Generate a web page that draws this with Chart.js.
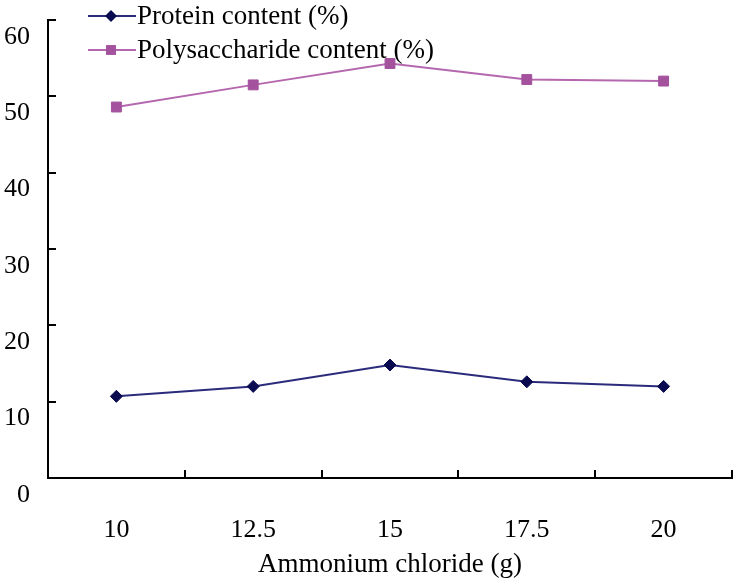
<!DOCTYPE html>
<html>
<head>
<meta charset="utf-8">
<title>Protein and polysaccharide content</title>
<script src="https://cdn.jsdelivr.net/npm/chart.js"></script>
<style>
  html, body { margin: 0; padding: 0; background: #fff; }
  #wrap { width: 740px; height: 583px; position: relative; }
</style>
</head>
<body>
<div id="wrap"><canvas id="chart"></canvas></div>
<script>
const categories = ['10', '12.5', '15', '17.5', '20'];
const proteinValues = [10.7, 12.0, 14.8, 12.6, 12.0];
const polysaccharideValues = [48.6, 51.5, 54.3, 52.2, 52.0];
const yTicks = [0, 10, 20, 30, 40, 50, 60];

const serif = "'Liberation Serif', 'Times New Roman', serif";
Chart.defaults.font.family = serif;
Chart.defaults.color = '#000';

// inward tick marks like the original plot
const innerTicks = {
    id: 'innerTicks',
    afterDraw(chart) {
        const ctx = chart.ctx;
        const area = chart.chartArea;
        const y = chart.scales.y;
        ctx.save();
        ctx.strokeStyle = '#000';
        ctx.lineWidth = 2;
        ctx.beginPath();
        yTicks.forEach(v => {
            const py = Math.round(y.getPixelForValue(v));
            ctx.moveTo(area.left, py);
            ctx.lineTo(area.left + 8, py);
        });
        const n = categories.length;
        for (let i = 1; i <= n; i++) {
            const px = Math.round(area.left + i * (area.right - area.left) / n);
            ctx.moveTo(px, area.bottom);
            ctx.lineTo(px, area.bottom - 8);
        }
        ctx.stroke();
        ctx.restore();
    }
};

// two-row legend placed over the top of the plot
const stackedLegend = {
    id: 'stackedLegend',
    afterDraw(chart) {
        const ctx = chart.ctx;
        const rows = [16, 50];
        ctx.save();
        chart.data.datasets.forEach((ds, i) => {
            const y = rows[i];
            ctx.strokeStyle = ds.borderColor;
            ctx.lineWidth = 2;
            ctx.beginPath();
            ctx.moveTo(88, y);
            ctx.lineTo(136, y);
            ctx.stroke();
            ctx.fillStyle = ds.pointBackgroundColor;
            const r = ds.pointRadius;
            ctx.beginPath();
            if (ds.pointStyle === 'rectRot') {
                ctx.moveTo(111, y - r);
                ctx.lineTo(111 + r, y);
                ctx.lineTo(111, y + r);
                ctx.lineTo(111 - r, y);
                ctx.closePath();
            } else {
                const s = r * Math.SQRT1_2;
                ctx.rect(111 - s, y - s, 2 * s, 2 * s);
            }
            ctx.fill();
            ctx.fillStyle = '#000';
            ctx.font = '27px ' + serif;
            ctx.textBaseline = 'middle';
            ctx.textAlign = 'left';
            ctx.fillText(ds.label, 137, y + 1);
        });
        ctx.restore();
    }
};

new Chart(document.getElementById('chart'), {
    type: 'line',
    data: {
        labels: categories,
        datasets: [{
            label: 'Protein content (%)',
            data: proteinValues,
            borderColor: '#2b2b7c',
            borderWidth: 2,
            pointStyle: 'rectRot',
            pointRadius: 6,
            pointBackgroundColor: '#0a0a50',
            pointBorderColor: '#0a0a50',
            pointBorderWidth: 1,
            fill: false,
            tension: 0
        }, {
            label: 'Polysaccharide content (%)',
            data: polysaccharideValues,
            borderColor: '#b467ae',
            borderWidth: 2,
            pointStyle: 'rect',
            pointRadius: 7,
            pointBackgroundColor: '#a4529e',
            pointBorderColor: '#a4529e',
            pointBorderWidth: 1,
            fill: false,
            tension: 0
        }]
    },
    options: {
        responsive: true,
        maintainAspectRatio: false,
        animation: false,
        layout: {
            padding: { top: 20, right: 3, left: 0, bottom: 0 }
        },
        scales: {
            x: {
                type: 'category',
                offset: true,
                grid: { display: false, drawTicks: false },
                border: { display: true, color: '#000', width: 2 },
                ticks: {
                    padding: 37,
                    font: { size: 26 },
                    color: '#000',
                    maxRotation: 0
                },
                title: {
                    display: true,
                    text: 'Ammonium chloride (g)',
                    font: { size: 27 },
                    color: '#000',
                    padding: { top: 0, bottom: 2 }
                },
                afterFit(scale) {
                    scale.height = 105;
                    scale.paddingLeft = 0;
                    scale.paddingRight = 0;
                }
            },
            y: {
                min: 0,
                max: 60,
                grid: { display: false, drawTicks: false },
                border: { display: true, color: '#000', width: 2 },
                ticks: {
                    stepSize: 10,
                    padding: 18,
                    labelOffset: 17,
                    font: { size: 26 },
                    color: '#000'
                },
                afterFit(scale) {
                    scale.width = 48;
                    scale.paddingTop = 0;
                    scale.paddingBottom = 0;
                }
            }
        },
        plugins: {
            legend: { display: false },
            tooltip: { enabled: false }
        }
    },
    plugins: [innerTicks, stackedLegend]
});
</script>
</body>
</html>
